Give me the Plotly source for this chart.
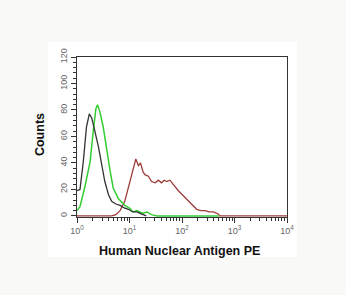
import plotly.graph_objects as go

# log10(fluorescence) and counts for each histogram
black_log = [0.0, 0.057, 0.12, 0.18, 0.235, 0.28, 0.34, 0.41, 0.47, 0.53, 0.6, 0.66, 0.74, 0.82, 0.9, 0.98, 1.06, 1.14, 1.2, 1.26, 1.32]
black_cnt = [19, 20, 41, 67, 77, 74, 64, 52, 39, 26, 16, 11, 9, 8, 6, 5, 3, 3, 2, 1, 0]

green_log = [0.0, 0.057, 0.15, 0.25, 0.31, 0.36, 0.39, 0.44, 0.5, 0.565, 0.63, 0.69, 0.79, 0.91, 1.0, 1.07, 1.14, 1.25, 1.33, 1.42, 1.52, 2.7]
green_cnt = [4, 7, 22, 41, 64, 81, 84, 78, 67, 49, 34, 21, 13, 8, 6, 3, 4, 2, 3, 1, 0, 0]

red_log = [0.0, 0.66, 0.74, 0.82, 0.91, 1.01, 1.07, 1.12, 1.17, 1.21, 1.26, 1.3, 1.36, 1.42, 1.49, 1.55, 1.61, 1.66, 1.71, 1.77, 1.83, 1.93, 2.03, 2.1, 2.15, 2.22, 2.28, 2.36, 2.44, 2.52, 2.6, 2.69, 2.72, 4.0]
red_cnt = [0, 0, 1, 4, 11, 26, 36, 43, 38, 40, 33, 31, 30, 26, 25, 27, 25, 27, 26, 27, 24, 19, 15, 12, 10, 7, 5, 4, 4, 3, 3, 1.5, 0, 0]

x_tickvals = [1, 10, 100, 1000, 10000]
x_ticktext = ["10<sup>0</sup>", "10<sup>1</sup>", "10<sup>2</sup>", "10<sup>3</sup>", "10<sup>4</sup>"]
y_tickvals = [0, 20, 40, 60, 80, 100, 120]
x_minor = [m * d for d in x_tickvals[:-1] for m in range(2, 10)]

fig = go.Figure()
fig.add_trace(go.Scatter(x=[10 ** v for v in red_log], y=red_cnt, mode="lines",
                         line=dict(color="#9e3c3c", width=1.3)))
fig.add_trace(go.Scatter(x=[10 ** v for v in green_log], y=green_cnt, mode="lines",
                         line=dict(color="#33cc33", width=1.5)))
fig.add_trace(go.Scatter(x=[10 ** v for v in black_log], y=black_cnt, mode="lines",
                         line=dict(color="#333333", width=1.3)))

fig.update_layout(
    width=346, height=295,
    margin=dict(l=77, r=59, t=57, b=78),
    paper_bgcolor="#f9f9f7", plot_bgcolor="white",
    showlegend=False,
    font=dict(family="Liberation Sans, Arial, sans-serif", color="#555555"),
    shapes=[dict(type="rect", xref="paper", yref="paper", x0=-0.138, x1=1.048, y0=-0.25, y1=1.094,
                 fillcolor="white", line=dict(width=0), layer="below")],
    annotations=[
        dict(text="<b>Human Nuclear Antigen PE</b>", xref="paper", yref="paper", x=0.486, y=-0.2125,
             showarrow=False, font=dict(size=12.5, color="#111111"), xanchor="center", yanchor="middle"),
        dict(text="<b>Counts</b>", xref="paper", yref="paper", x=-0.176, y=0.5125, textangle=-90,
             showarrow=False, font=dict(size=12.5, color="#111111"), xanchor="center", yanchor="middle"),
    ],
)
fig.update_xaxes(type="log", range=[0, 4], tickvals=x_tickvals, ticktext=x_ticktext,
                 ticks="outside", ticklen=5, tickcolor="#333", showgrid=False, zeroline=False,
                 showline=True, linecolor="#333", linewidth=1, mirror=True, layer="below traces",
                 tickfont=dict(size=9, color="#666666"),
                 minor=dict(tickmode="array", tickvals=x_minor, ticks="outside", ticklen=3,
                            tickcolor="#333", showgrid=False))
fig.update_yaxes(range=[-0.8, 120], tickvals=y_tickvals, tickangle=-90,
                 ticks="outside", ticklen=5, tickcolor="#333", showgrid=False, zeroline=False,
                 showline=True, linecolor="#333", linewidth=1, mirror=True, layer="below traces",
                 tickfont=dict(size=9, color="#666666"),
                 minor=dict(dtick=4, ticks="outside", ticklen=3, tickcolor="#333", showgrid=False))

fig.write_html("out.html")
